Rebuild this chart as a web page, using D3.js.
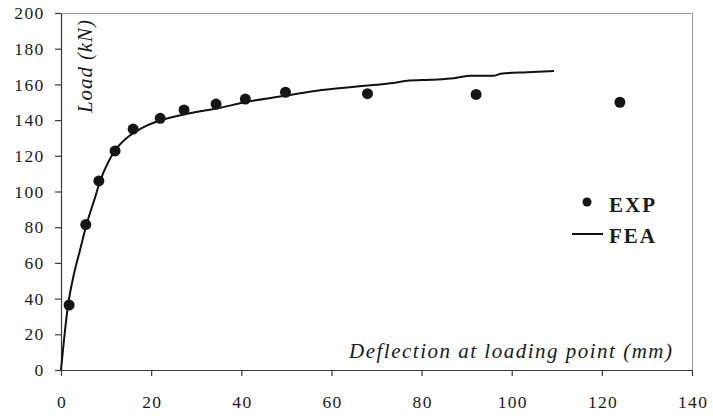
<!DOCTYPE html>
<html>
<head>
<meta charset="utf-8">
<script src="https://cdn.jsdelivr.net/npm/d3@7"></script>
<style>
  body { margin: 0; background: #fff; }
  svg { display: block; }
</style>
</head>
<body>
<div id="chart"></div>
<script>
// experimental points (EXP)
var expDeflection = [1.8, 5.5, 8.4, 12, 16, 22, 27.3, 34.4, 40.9, 49.8, 68, 92.1, 124];
var expLoad = [36.4, 81.5, 105.9, 122.7, 135, 141, 145.7, 149, 151.8, 155.6, 154.8, 154.4, 150];

// finite element curve (FEA)
var feaDeflection = [0, 1.6, 2.8, 4.2, 5.6, 7.6, 8.7, 10.5, 12, 14.6, 17.9, 21.6, 25.3, 30, 34.6, 41.3, 49.4, 56.8, 63.5, 70, 73.1, 76.8, 82, 87.2, 90.9, 96.1, 97.6, 103.5, 109.4];
var feaLoad = [0, 37, 53, 67, 81, 97, 106, 116.5, 123, 130, 135.5, 139.5, 142, 144.5, 146.5, 150.3, 153.5, 156.5, 158.3, 159.8, 160.6, 162, 162.6, 163.4, 164.9, 164.9, 166, 166.8, 167.5];

var xTicks = [0, 20, 40, 60, 80, 100, 120, 140];
var yTicks = [0, 20, 40, 60, 80, 100, 120, 140, 160, 180, 200];

var serif = "'Liberation Serif', 'Tinos', 'Times New Roman', Times, serif";

var width = 713, height = 419;
var margin = { top: 13, right: 21, bottom: 49, left: 61 };
var w = width - margin.left - margin.right;
var h = height - margin.top - margin.bottom;

var svg = d3.select("#chart")
    .append("svg")
    .attr("width", width)
    .attr("height", height)
    .append("g")
    .attr("transform", "translate(" + margin.left + "," + margin.top + ")");

var x = d3.scaleLinear().domain([0, 140]).range([0, w]);
var y = d3.scaleLinear().domain([0, 200]).range([h, 0]);

// frame top and right (grey)
svg.append("line")
    .attr("x1", 0).attr("x2", w).attr("y1", 0.5).attr("y2", 0.5)
    .attr("stroke", "#9a9a9a").attr("stroke-width", 1);
svg.append("line")
    .attr("x1", w + 0.5).attr("x2", w + 0.5).attr("y1", 0).attr("y2", h)
    .attr("stroke", "#9a9a9a").attr("stroke-width", 1);

// axes
var xAxis = svg.append("g")
    .attr("transform", "translate(0," + h + ")")
    .call(d3.axisBottom(x).tickValues(xTicks).tickSize(6).tickPadding(20).tickSizeOuter(0));
xAxis.selectAll("text").attr("dx", "0.6px");

var yAxis = svg.append("g")
    .call(d3.axisLeft(y).tickValues(yTicks).tickSize(6).tickPadding(11).tickSizeOuter(0));
yAxis.selectAll("text").attr("dx", "0.5px");

svg.selectAll(".tick text")
    .style("font-family", serif)
    .style("font-size", "17.5px")
    .style("letter-spacing", "1.3px")
    .style("fill", "#1a1a1a");

svg.selectAll(".domain, .tick line").attr("stroke", "#3a3a3a").attr("stroke-width", 1.2);

// axis titles
svg.append("text")
    .attr("transform", "translate(31,100) rotate(-90)")
    .style("font-family", serif)
    .style("font-style", "italic")
    .style("font-size", "21px")
    .style("letter-spacing", "0.9px")
    .style("fill", "#1a1a1a")
    .text("Load (kN)");

svg.append("text")
    .attr("x", 288)
    .attr("y", 345)
    .style("font-family", serif)
    .style("font-style", "italic")
    .style("font-size", "21px")
    .style("letter-spacing", "1.5px")
    .style("fill", "#1a1a1a")
    .text("Deflection at loading point (mm)");

// FEA line
var fea = feaDeflection.map(function (d, i) { return { x: d, y: feaLoad[i] }; });
svg.append("path")
    .attr("fill", "none")
    .attr("stroke", "#111")
    .attr("stroke-width", 2)
    .attr("d", d3.line()
        .x(function (d) { return x(d.x); })
        .y(function (d) { return y(d.y); })
        .curve(d3.curveMonotoneX)(fea));

// EXP points
var exp = expDeflection.map(function (d, i) { return { x: d, y: expLoad[i] }; });
svg.selectAll(".dot")
    .data(exp)
    .enter()
    .append("circle")
    .attr("class", "dot")
    .attr("cx", function (d) { return x(d.x); })
    .attr("cy", function (d) { return y(d.y); })
    .attr("r", 5.5)
    .attr("fill", "#151515");

// legend
var legend = svg.append("g").attr("transform", "translate(" + (572 - margin.left) + "," + (202 - margin.top) + ")");
legend.append("circle").attr("cx", 15).attr("cy", 0).attr("r", 4.5).attr("fill", "#151515");
legend.append("line").attr("x1", 0).attr("x2", 31).attr("y1", 32).attr("y2", 32)
    .attr("stroke", "#111").attr("stroke-width", 2);
legend.selectAll(".legendText")
    .data(["EXP", "FEA"])
    .enter()
    .append("text")
    .attr("class", "legendText")
    .attr("x", 37)
    .attr("y", function (d, i) { return 9.5 + i * 31; })
    .style("font-family", serif)
    .style("font-weight", "bold")
    .style("font-size", "21px")
    .style("letter-spacing", "2px")
    .style("fill", "#1a1a1a")
    .text(function (d) { return d; });
</script>
</body>
</html>
